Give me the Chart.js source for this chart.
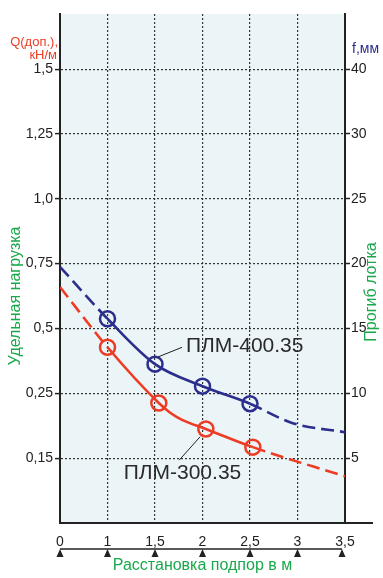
<!DOCTYPE html>
<html>
<head>
<meta charset="utf-8">
<script src="https://cdn.jsdelivr.net/npm/chart.js@4.4.1/dist/chart.umd.min.js"></script>
<style>
  html, body { margin: 0; padding: 0; background: #fff; }
  #wrap { position: relative; width: 383px; height: 578px; }
</style>
</head>
<body>
<div id="wrap"><canvas id="chart"></canvas></div>
<script>
// x positions are evenly spaced steps: 0, 1, 1.5 ... 3.5 m
const xLabels = ['0', '1', '1,5', '2', '2,5', '3', '3,5'];
// left axis (Q, kN/m) and right axis (f, mm) share the same 7 grid rows
const loadLabels = ['0,15', '0,25', '0,5', '0,75', '1,0', '1,25', '1,5'];
const sagLabels = ['5', '10', '15', '20', '25', '30', '40'];

// ПЛМ-400.35 (blue) in grid units
const blueX = [0, 1, 2, 3, 4, 4.9, 6];
const blueY = [3.95, 3.15, 2.45, 2.11, 1.84, 1.54, 1.40];
const blueMarks = [false, true, true, true, true, false, false];
const blueDashed = [0, 4, 5];

// ПЛМ-300.35 (red) in grid units
const redX = [0, 1, 2.08, 2.32, 2.57, 3.07, 4.06, 6];
const redY = [3.64, 2.71, 1.85, 1.70, 1.59, 1.45, 1.17, 0.72];
const redMarks = [false, true, true, false, false, true, true, false];
const redDashed = [0, 6];

const BLUE = '#2b2e8c';
const RED = '#ee3b24';
const GREEN = '#1ba84c';
const INK = '#222';
const FONT = 'Arial, "Liberation Sans", sans-serif';

Chart.defaults.font.family = FONT;

const toPoints = (xs, ys) => xs.map((x, i) => ({ x, y: ys[i] }));

const rowTicks = s => { s.ticks = loadLabels.map((_, i) => ({ value: i + 1 })); };

const decor = {
  id: 'decor',
  beforeDraw(chart) {
    const { ctx, chartArea: a } = chart;
    ctx.save();
    ctx.fillStyle = '#ebf4f7';
    ctx.fillRect(a.left, a.top, a.right - a.left, a.bottom - a.top);
    ctx.restore();
  },
  afterDraw(chart) {
    const { ctx, chartArea: a, scales: { x, y } } = chart;
    ctx.save();

    // bottom line runs a bit past the right axis
    ctx.strokeStyle = INK;
    ctx.lineWidth = 2;
    ctx.beginPath();
    ctx.moveTo(a.right, a.bottom);
    ctx.lineTo(a.right + 28, a.bottom);
    ctx.stroke();

    // spacing ruler with arrow marks
    const ry = a.bottom + 26;
    ctx.lineWidth = 1.5;
    ctx.beginPath();
    ctx.moveTo(x.getPixelForValue(0), ry);
    ctx.lineTo(x.getPixelForValue(6) - 3, ry);
    ctx.stroke();
    ctx.fillStyle = INK;
    xLabels.forEach((_, i) => {
      const px = x.getPixelForValue(i) + (i === 6 ? -3 : 0);
      ctx.beginPath();
      ctx.moveTo(px, ry);
      ctx.lineTo(px - 3.5, ry + 8);
      ctx.lineTo(px + 3.5, ry + 8);
      ctx.closePath();
      ctx.fill();
    });

    // axis captions
    ctx.font = '13px ' + FONT;
    ctx.fillStyle = RED;
    ctx.textAlign = 'right';
    ctx.textBaseline = 'middle';
    ctx.fillText('Q(доп.),', 58, 42);
    ctx.fillText('кН/м', 57, 55);

    ctx.font = '14px ' + FONT;
    ctx.fillStyle = BLUE;
    ctx.textAlign = 'left';
    ctx.fillText('f,мм', 352, 49);

    ctx.font = '16px ' + FONT;
    ctx.fillStyle = GREEN;
    ctx.textAlign = 'center';
    ctx.save();
    ctx.translate(16, 296);
    ctx.rotate(-Math.PI / 2);
    ctx.fillText('Удельная нагрузка', 0, 0);
    ctx.restore();
    ctx.save();
    ctx.translate(372, 292);
    ctx.rotate(-Math.PI / 2);
    ctx.fillText('Прогиб лотка', 0, 0);
    ctx.restore();

    // series labels with leader lines
    ctx.strokeStyle = INK;
    ctx.lineWidth = 1;
    ctx.beginPath();
    ctx.moveTo(x.getPixelForValue(2.06), y.getPixelForValue(2.56));
    ctx.lineTo(x.getPixelForValue(2.57), y.getPixelForValue(2.71));
    ctx.moveTo(x.getPixelForValue(2.95), y.getPixelForValue(1.33));
    ctx.lineTo(x.getPixelForValue(2.51), y.getPixelForValue(0.97));
    ctx.stroke();

    ctx.font = '21px ' + FONT;
    ctx.fillStyle = '#2a2a2a';
    ctx.textAlign = 'left';
    ctx.fillText('ПЛМ-400.35', x.getPixelForValue(2.65), y.getPixelForValue(2.73));
    ctx.fillText('ПЛМ-300.35', x.getPixelForValue(1.34), y.getPixelForValue(0.77));

    ctx.restore();
  }
};

const series = (xs, ys, marks, dashed, color) => ({
  data: toPoints(xs, ys),
  borderColor: color,
  borderWidth: 2.6,
  cubicInterpolationMode: 'monotone',
  pointRadius: c => (marks[c.dataIndex] ? 7.5 : 0),
  pointBorderWidth: 2.5,
  pointBorderColor: color,
  pointBackgroundColor: 'rgba(0,0,0,0)',
  segment: { borderDash: c => (dashed.includes(c.p0DataIndex) ? [13, 6] : undefined) },
  xAxisID: 'x',
  yAxisID: 'y'
});

new Chart(document.getElementById('chart'), {
  type: 'line',
  data: {
    datasets: [
      series(redX, redY, redMarks, redDashed, RED),
      series(blueX, blueY, blueMarks, blueDashed, BLUE)
    ]
  },
  options: {
    responsive: true,
    maintainAspectRatio: false,
    animation: false,
    events: [],
    layout: { padding: { top: 14, left: 0, right: 0, bottom: 0 } },
    plugins: { legend: { display: false }, tooltip: { enabled: false } },
    scales: {
      x: {
        type: 'linear', min: 0, max: 6,
        afterBuildTicks: s => { s.ticks = xLabels.map((_, i) => ({ value: i })); },
        afterFit: s => { s.height = 55; },
        ticks: {
          autoSkip: false, maxRotation: 0, padding: 11,
          color: INK, font: { size: 14 },
          callback: v => xLabels[v]
        },
        grid: {
          color: c => (c.tick && (c.tick.value === 0 || c.tick.value === 6) ? 'rgba(0,0,0,0)' : '#333'),
          lineWidth: 1.2,
          drawTicks: false
        },
        border: { display: true, color: INK, width: 2, dash: [2, 2] },
        title: {
          display: true, text: 'Расстановка подпор в м', color: GREEN,
          font: { size: 16 }, padding: { top: 0, bottom: 3 }
        }
      },
      y: {
        type: 'linear', position: 'left', min: 0, max: 7.85,
        afterBuildTicks: rowTicks,
        afterFit: s => { s.width = 60; },
        ticks: { color: INK, font: { size: 14 }, padding: 2, callback: v => loadLabels[v - 1] },
        grid: {
          color: '#333', lineWidth: 1.2,
          drawTicks: true, tickLength: 5, tickColor: INK, tickWidth: 1.5, tickBorderDash: []
        },
        border: { display: true, color: INK, width: 2, dash: [2, 2] }
      },
      y1: {
        type: 'linear', position: 'right', min: 0, max: 7.85,
        afterBuildTicks: rowTicks,
        afterFit: s => { s.width = 38; },
        ticks: { color: INK, font: { size: 14 }, padding: 1, callback: v => sagLabels[v - 1] },
        grid: {
          drawOnChartArea: false,
          drawTicks: true, tickLength: 5, tickColor: INK, tickWidth: 1.5, tickBorderDash: []
        },
        border: { display: true, color: INK, width: 2 }
      }
    }
  },
  plugins: [decor]
});
</script>
</body>
</html>
